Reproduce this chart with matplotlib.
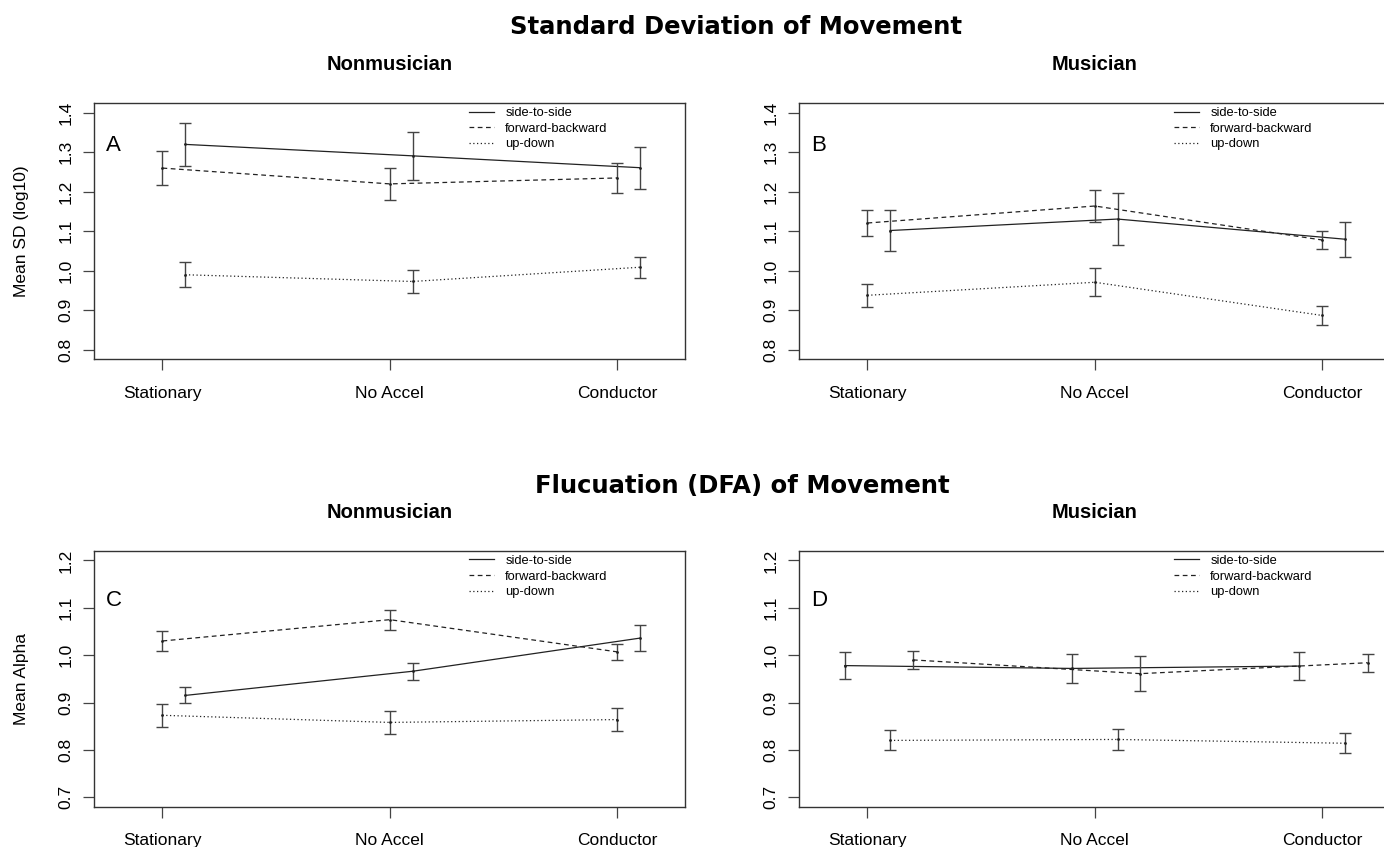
import numpy as np
import matplotlib
matplotlib.use("Agg")
import matplotlib.pyplot as plt

plt.rcParams['font.family'] = ['Liberation Sans', 'DejaVu Sans']

# Datos
conditions = ["Stationary", "No Accel", "Conductor"]
series = ["side-to-side", "forward-backward", "up-down"]

# filas: side-to-side, forward-backward, up-down
sd_nonmus_means = [[1.320, 1.291, 1.261], [1.260, 1.220, 1.235], [0.990, 0.973, 1.009]]
sd_nonmus_err = [[0.055, 0.061, 0.053], [0.042, 0.040, 0.039], [0.032, 0.030, 0.027]]
sd_mus_means = [[1.102, 1.131, 1.080], [1.121, 1.164, 1.078], [0.938, 0.971, 0.887]]
sd_mus_err = [[0.052, 0.065, 0.044], [0.032, 0.040, 0.024], [0.029, 0.035, 0.024]]
dfa_nonmus_means = [[0.915, 0.966, 1.036], [1.030, 1.075, 1.007], [0.873, 0.858, 0.864]]
dfa_nonmus_err = [[0.017, 0.018, 0.027], [0.021, 0.021, 0.017], [0.024, 0.025, 0.024]]
dfa_mus_means = [[0.978, 0.972, 0.977], [0.990, 0.961, 0.984], [0.820, 0.822, 0.814]]
dfa_mus_err = [[0.028, 0.030, 0.030], [0.019, 0.037, 0.019], [0.021, 0.023, 0.021]]

# Estilo
W, H = 1384, 847
LINESTYLES = ['-', (0, (3.8, 2.8)), (0, (1, 2))]
LINE_COLOR = '#222222'
ERR_COLOR = '#444444'


def draw_panel(rect, means, errs, offsets, letter, yticks, ylabel, subtitle, letter_y):
    left, top, right, bottom = rect
    ax = plt.gcf().add_axes([left / W, 1 - bottom / H, (right - left) / W, (bottom - top) / H])
    x = np.arange(len(conditions))
    for i, name in enumerate(series):
        xs = x + offsets[i]
        ax.errorbar(xs, means[i], yerr=errs[i], fmt='none', ecolor=ERR_COLOR,
                    elinewidth=1.0, capsize=4.5, capthick=1.0)
        ax.plot(xs, means[i], color=LINE_COLOR, lw=0.9, ls=LINESTYLES[i], label=name)
        ax.plot(xs, means[i], ls='none', marker='.', ms=2, color=LINE_COLOR)
    ax.set_xlim(-0.3, 2.3)
    pad = (yticks[-1] - yticks[0]) * 0.04
    ax.set_ylim(yticks[0] - pad, yticks[-1] + pad)
    ax.set_xticks(x)
    ax.set_xticklabels(conditions, fontsize=12.5)
    ax.set_yticks(yticks)
    ax.set_yticklabels([f"{t:.1f}" for t in yticks], fontsize=12.5, rotation=90, va='center')
    ax.tick_params(axis='x', length=8, width=0.9, pad=11, color='#444444')
    ax.tick_params(axis='y', length=8, width=0.9, pad=7, color='#444444')
    for s in ax.spines.values():
        s.set_linewidth(1.0)
        s.set_color('#333333')
    ax.legend(loc='upper left', bbox_to_anchor=(0.634, 0.985), frameon=False, fontsize=9.3,
              handlelength=1.9, handletextpad=0.9, labelspacing=0.28, borderpad=0,
              borderaxespad=0)
    ax.text(0.02, letter_y, letter, transform=ax.transAxes, fontsize=16, va='center', ha='left')
    ax.set_title(subtitle, fontsize=14.5, fontweight='bold', pad=24)
    if ylabel:
        ax.text(-0.123, 0.5, ylabel, transform=ax.transAxes, rotation=90,
                ha='center', va='center', fontsize=12.5)
    return ax


fig = plt.figure(figsize=(W / 100, H / 100), dpi=100)

sd_ticks = np.round(np.arange(0.8, 1.41, 0.1), 1)
dfa_ticks = np.round(np.arange(0.7, 1.21, 0.1), 1)

draw_panel((94.3, 103.3, 685.3, 359.3), sd_nonmus_means, sd_nonmus_err, [0.1, 0.0, 0.1],
           "A", sd_ticks, "Mean SD (log10)", "Nonmusician", 0.834)
draw_panel((799.3, 103.3, 1390.3, 359.3), sd_mus_means, sd_mus_err, [0.1, 0.0, 0.0],
           "B", sd_ticks, None, "Musician", 0.834)
draw_panel((94.3, 551.0, 685.3, 806.7), dfa_nonmus_means, dfa_nonmus_err, [0.1, 0.0, 0.0],
           "C", dfa_ticks, "Mean Alpha", "Nonmusician", 0.806)
draw_panel((799.3, 551.0, 1390.3, 806.7), dfa_mus_means, dfa_mus_err, [-0.1, 0.2, 0.1],
           "D", dfa_ticks, None, "Musician", 0.806)

fig.text(736 / W, 1 - 27 / H, "Standard Deviation of Movement", family='DejaVu Sans',
         fontweight='bold', fontsize=17.5, ha='center', va='center')
fig.text(742 / W, 1 - 486 / H, "Flucuation (DFA) of Movement", family='DejaVu Sans',
         fontweight='bold', fontsize=17.5, ha='center', va='center')

fig.savefig("out.png", dpi=100)
